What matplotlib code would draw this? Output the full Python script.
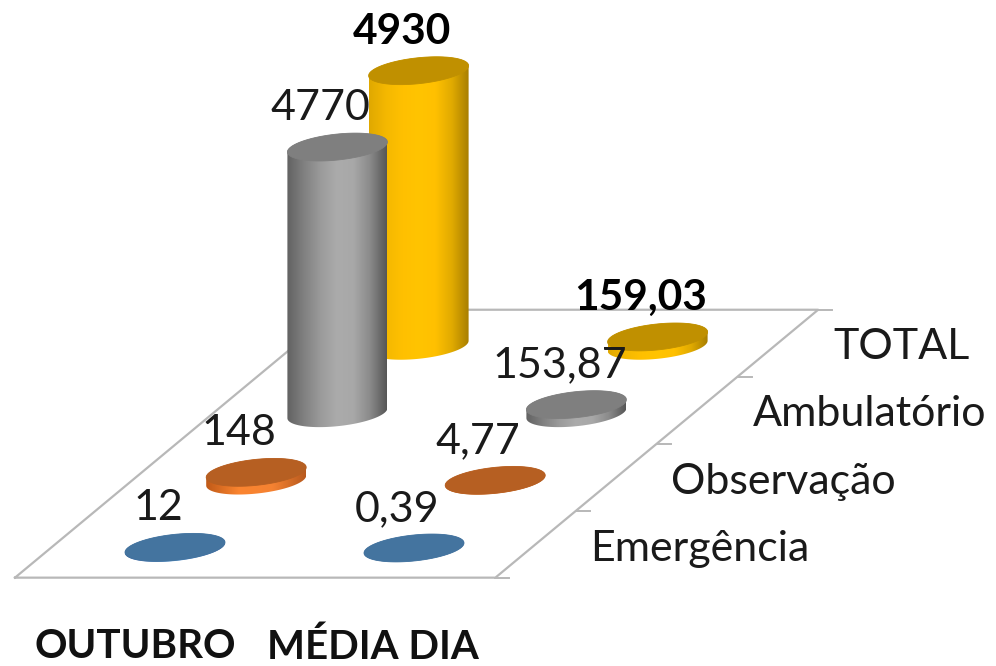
import numpy as np
import matplotlib
matplotlib.use("Agg")
import matplotlib.pyplot as plt
from matplotlib.patches import PathPatch, Polygon
from matplotlib.path import Path
from matplotlib.transforms import Affine2D
from matplotlib.colors import LinearSegmentedColormap

categories = ["OUTUBRO", "MÉDIA DIA"]
series = ["Emergência", "Observação", "Ambulatório", "TOTAL"]
outubro = [12, 148, 4770, 4930]
media_dia = [0.39, 4.77, 153.87, 159.03]
labels_outubro = ["12", "148", "4770", "4930"]
labels_media = ["0,39", "4,77", "153,87", "159,03"]

W, H = 996, 666
plt.rcParams["font.family"] = ["Lato", "DejaVu Sans"]
fig = plt.figure(figsize=(W / 100, H / 100), dpi=100)
ax = fig.add_axes([0, 0, 1, 1])
ax.set_xlim(0, W)
ax.set_ylim(H, 0)
ax.axis("off")
ax.set_autoscale_on(False)

# Oblique chart plane: (category position, series position) -> canvas
plane = Affine2D.from_values(239, 0, 81.2, -67.4, 175, 548)
VALUE_SCALE = 0.0558
RX, RY, SHEAR = 50, 13, 5
TXT = "#1a1a1a"
LINE = "#b8b8b8"
FS = 31
FS_BOLD = 30.5
FS_CAT = 29


def pt(c, s):
    return plane.transform((c, s))


def arc(cx, cy, t0, t1, n=60):
    t = np.linspace(t0, t1, n)
    return np.column_stack([cx + RX * np.cos(t),
                            cy - RY * np.sin(t) - SHEAR * np.cos(t)])


def cmap(stops):
    return LinearSegmentedColormap.from_list("c", stops)


styles = [
    dict(top="#44749f", side=["#2f5597", "#5b9bd5", "#2f5597"]),
    dict(top="#b65f22", side=["#c05a18", "#fb8530", "#f58232", "#b85a1e"]),
    dict(top="#7f7f7f", side=["#626262", "#808080", "#9a9a9a", "#ababab", "#a8a8a8", "#8a8a8a", "#565656"]),
    dict(top="#c09000", side=["#e0a800", "#f4b800", "#ffc000", "#ffc400", "#ffc000", "#e0aa00", "#a87e00"]),
]

# floor
fl = [pt(-0.52, -0.44), pt(1.49, -0.44), pt(1.49, 3.535), pt(-0.52, 3.535)]
ax.plot(*np.array(fl + [fl[0]]).T, color=LINE, lw=1.6, zorder=1)
for j in range(5):
    p = plane.transform((1.49, -0.44 + j * 0.994))
    ax.plot([p[0], p[0] + 14], [p[1], p[1]], color=LINE, lw=1.4, zorder=1)


def cylinder(c, s, value, label, z):
    style = styles[s]
    cx, cy = pt(c, s)
    h = value * VALUE_SCALE
    ty = cy - h
    lower = arc(cx, cy, np.pi, 2 * np.pi)
    upper = arc(cx, ty, 0, np.pi)
    verts = np.vstack([lower, upper, lower[:1]])
    clip = PathPatch(Path(verts), fc="none", ec="none", transform=ax.transData)
    ax.add_patch(clip)
    grad = np.linspace(0, 1, 256).reshape(1, -1)
    im = ax.imshow(grad, cmap=cmap(style["side"]), aspect="auto",
                   extent=(cx - RX, cx + RX, cy + RY + 6, ty - RY - 6), zorder=z, interpolation="bilinear")
    im.set_clip_path(clip)
    ax.add_patch(Polygon(arc(cx, ty, 0, 2 * np.pi, 120), closed=True, fc=style["top"],
                         ec=style["top"], lw=0.6, zorder=z + 0.1))
    ax.text(cx - 17, ty - 39, label, ha="center", va="center", fontsize=FS_BOLD if s == 3 else FS,
            color="#000000" if s == 3 else TXT, fontweight="bold" if s == 3 else "normal", zorder=30)


for s in [3, 2, 1, 0]:
    z = 10 + (3 - s) * 2
    cylinder(0, s, outubro[s], labels_outubro[s], z + 1)
    cylinder(1, s, media_dia[s], labels_media[s], z)

for j, name in enumerate(series):
    p = plane.transform((0, j))
    ax.text(p[0] + 415, p[1] + 1, name, ha="left", va="center", fontsize=FS, color=TXT, zorder=30)

for i, name in enumerate(categories):
    ax.text(135 + 238 * i, 647, name, ha="center", va="center", fontsize=FS_CAT,
            fontweight="bold", color="#111111", zorder=30)

fig.savefig("out.png", dpi=100)
